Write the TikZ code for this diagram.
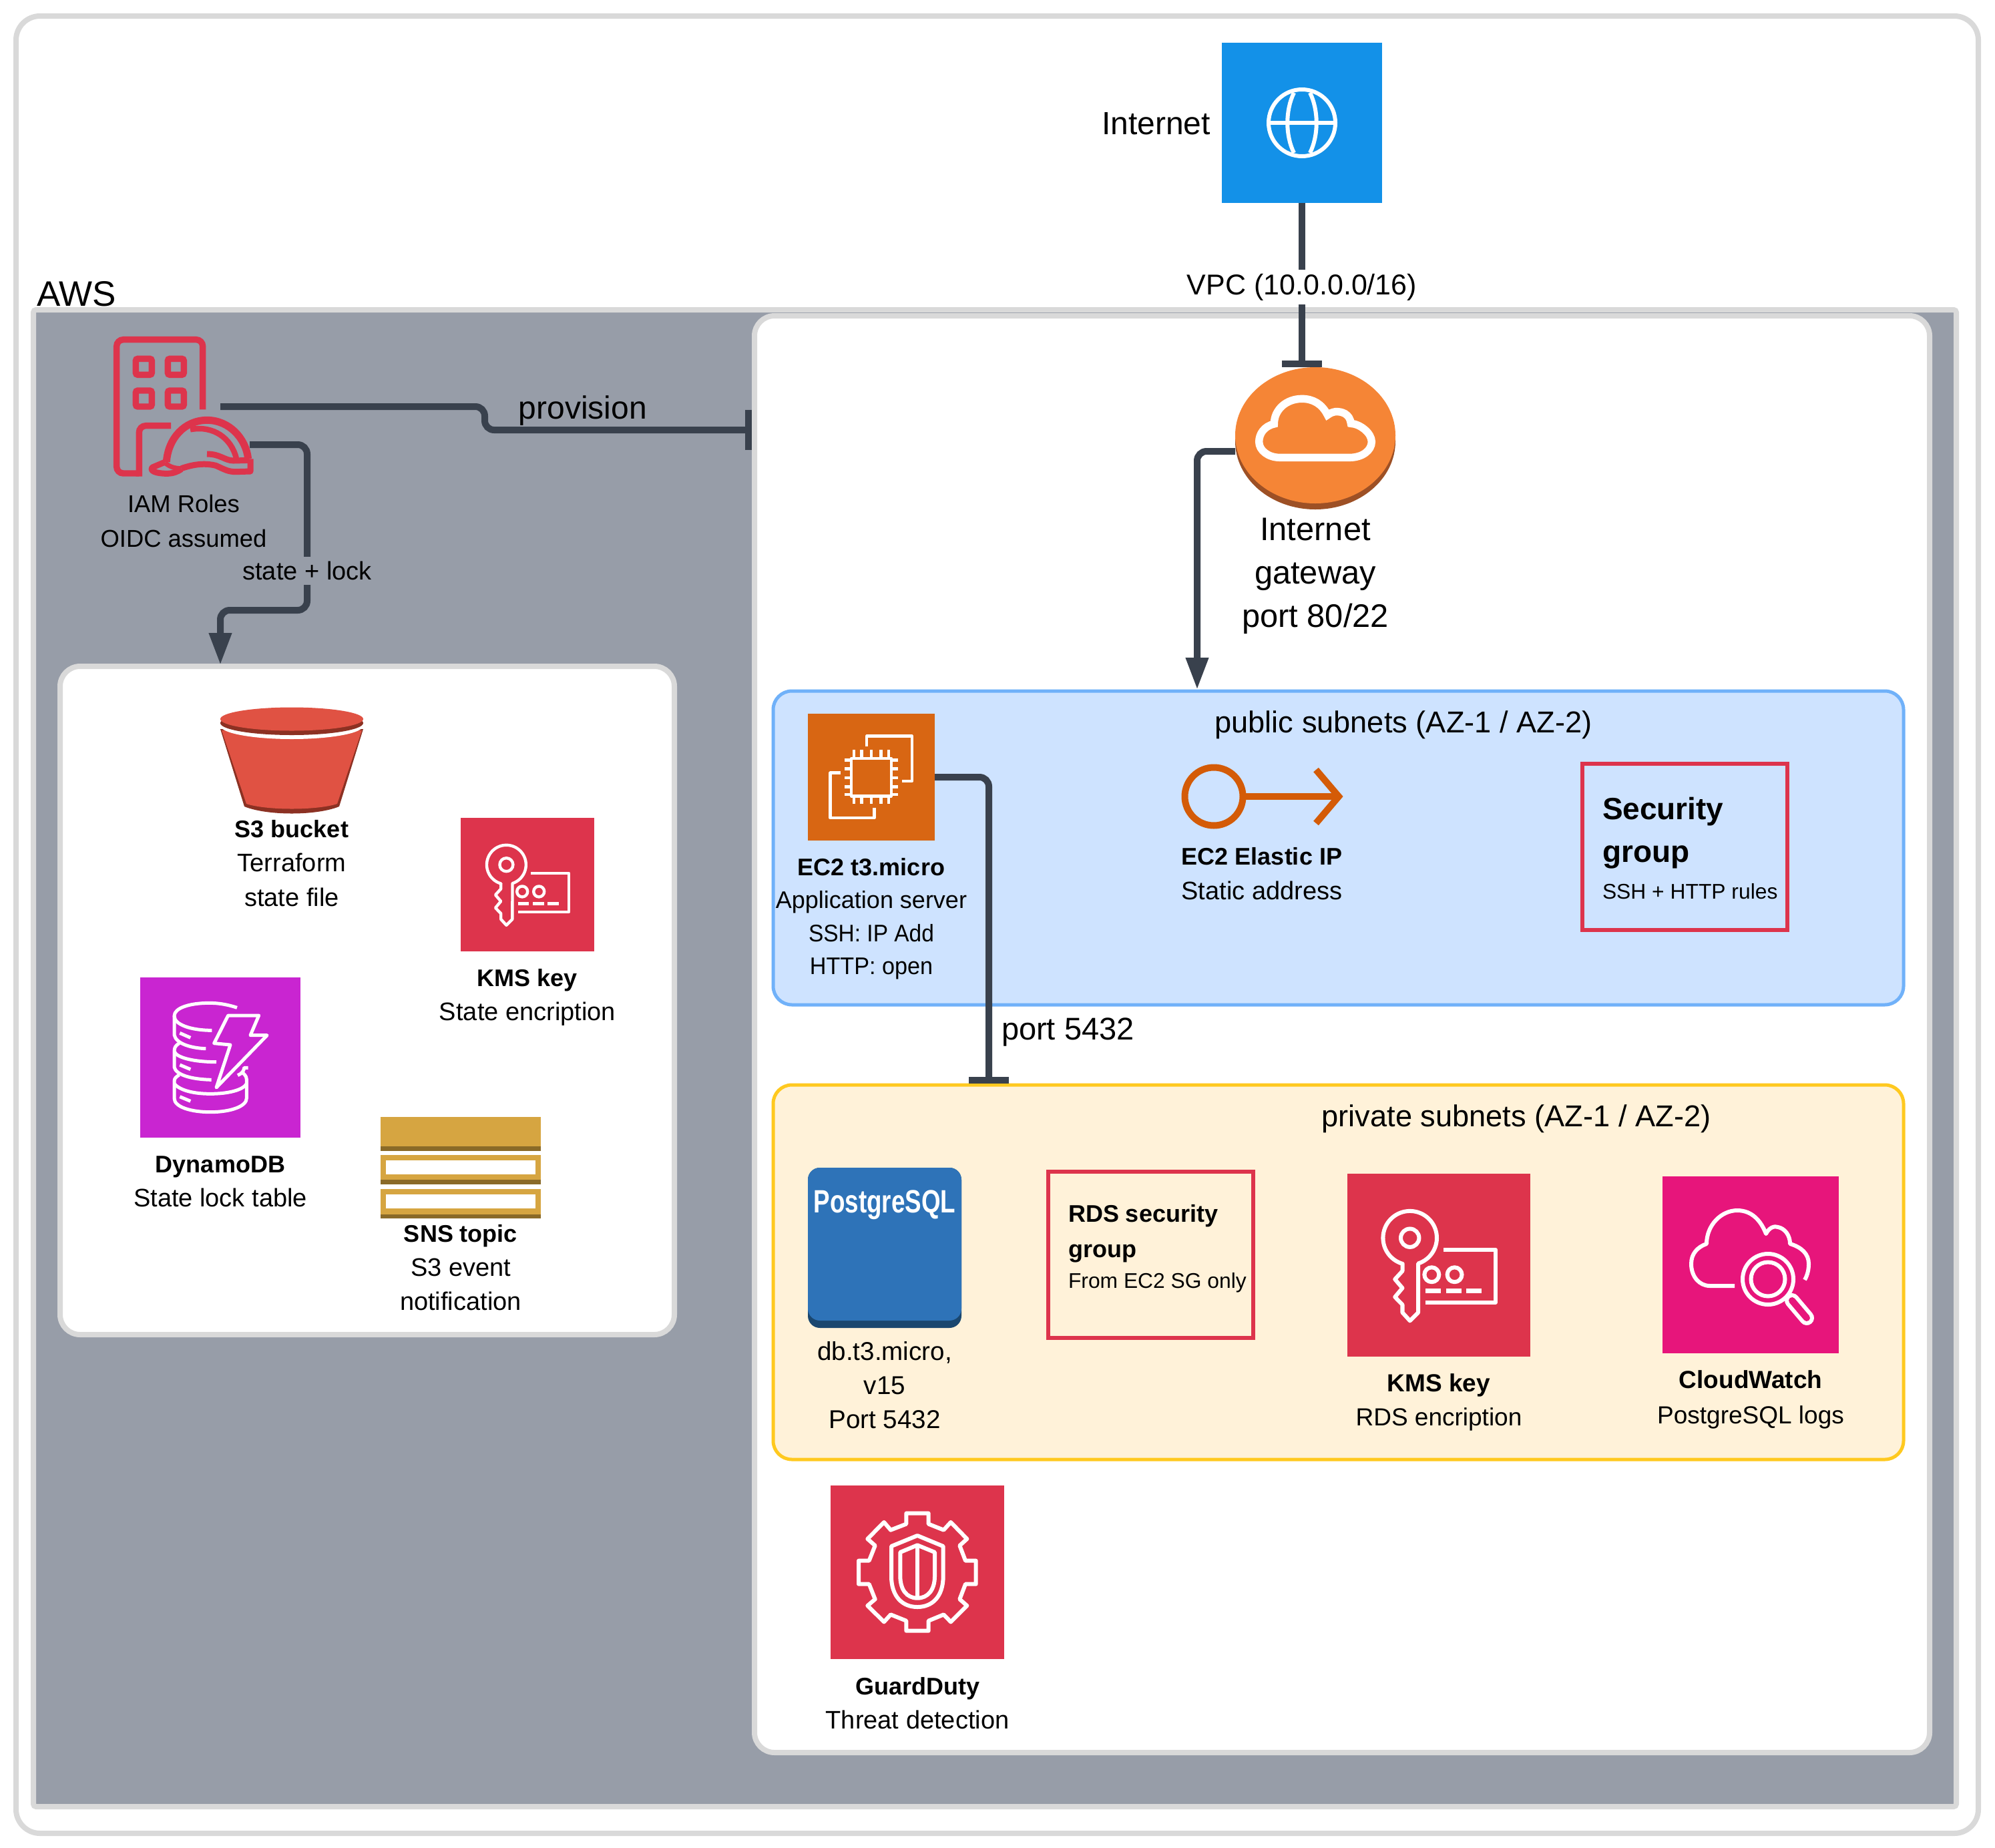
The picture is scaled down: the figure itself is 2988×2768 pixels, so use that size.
\documentclass[tikz,border=0pt]{standalone}
\usepackage{fontspec}
\setmainfont{Liberation Sans}
\usetikzlibrary{arrows.meta,shapes.geometric}
\definecolor{cgray}{HTML}{979DA8}
\definecolor{cframe}{HTML}{D9D9D9}
\definecolor{cline}{HTML}{39414D}
\definecolor{cpub}{HTML}{CEE3FF}
\definecolor{cpubl}{HTML}{70B1F9}
\definecolor{cpriv}{HTML}{FFF2D9}
\definecolor{cprivl}{HTML}{FFC91F}
\definecolor{cred}{HTML}{DD344C}
\definecolor{cinet}{HTML}{1391E8}
\definecolor{cigw}{HTML}{F58536}
\definecolor{cigwd}{HTML}{9D5025}
\definecolor{cec}{HTML}{D86613}
\definecolor{ceip}{HTML}{D45B07}
\definecolor{cs}{HTML}{E05243}
\definecolor{csd}{HTML}{8C3123}
\definecolor{cdyn}{HTML}{C925D1}
\definecolor{csns}{HTML}{D6A541}
\definecolor{csnsd}{HTML}{8A6A28}
\definecolor{cpg}{HTML}{2E73B8}
\definecolor{cpgd}{HTML}{1A476F}
\definecolor{ccw}{HTML}{E7157B}
\newcommand{\bt}[1]{{\fontsize{18}{25}\selectfont\bfseries #1}}
\newcommand{\rbox}[6]{%
  \pgfmathsetlengthmacro\rw{(#5-#3)*0.5}%
  \pgfmathsetlengthmacro\rh{(#6-#4)*0.5}%
  \node[#1,minimum width=\rw,minimum height=\rh,anchor=north west,inner sep=0pt,outer sep=0pt] (#2) at (#3,#4) {};}
\newcommand{\keyicon}[3]{%
  \pgfmathsetlengthmacro\ks{#3*0.5}%
  \begin{scope}[shift={(#1,#2)},x=\ks,y=-\ks,draw=white,line width=0.022*\ks,line join=round]
    \draw plot[domain=106:432,samples=70] ({.342+.147*cos(\x)},{.351+.147*sin(\x)}) -- (.387,.759) -- (.342,.804) -- (.301,.759) -- (.301,.716) -- (.26,.674) -- (.301,.625) -- (.26,.577) -- (.301,.532) -- cycle;
    \draw (.342,.351) circle[radius=.05*\ks];
    \draw (.526,.415) -- (.81,.415) -- (.81,.704) -- (.428,.704);
    \draw (.461,.552) circle[radius=.04*\ks];
    \draw (.586,.552) circle[radius=.04*\ks];
    \draw[line width=.025*\ks] (.428,.641) -- (.511,.641) (.54,.641) -- (.623,.641) (.651,.641) -- (.735,.641);
  \end{scope}}
\tikzset{
  x=0.5pt,y=-0.5pt,
  frame/.style={draw=cframe,line width=4pt},
  conn/.style={draw=cline,line width=5pt,rounded corners=7pt},
  teeend/.style={-{Bar[width=30pt,length=5pt]}},
  triend/.style={-{Triangle[width=16pt,length=24pt]}},
  lab/.style={inner sep=0pt,outer sep=0pt,text=black,align=center,anchor=north},
  lableft/.style={inner sep=0pt,outer sep=0pt,text=black,align=left,anchor=north west},
  fA/.style={font=\fontsize{19}{25.5}\selectfont},
  fB/.style={font=\fontsize{24.4}{32.5}\selectfont},
  fS/.style={font=\fontsize{15.9}{20}\selectfont},
  iconw/.style={draw=white,line join=round},
}
\begin{document}
\begin{tikzpicture}
\useasboundingbox (0,0) rectangle (2988,2768);
\fill[white] (0,0) rectangle (2988,2768);
% containers
\rbox{frame,fill=white,rounded corners=18pt}{outer}{24}{24}{2963}{2746}
\rbox{fill=cgray,draw=cframe,line width=4pt,rounded corners=2pt}{aws}{50}{464}{2930}{2706}
\rbox{frame,fill=white,rounded corners=15pt}{vpc}{1130}{473}{2890}{2625}
\rbox{frame,fill=white,rounded corners=15pt}{state}{90}{998}{1010}{1999}
\rbox{fill=cpub,draw=cpubl,line width=2.5pt,rounded corners=14pt}{pub}{1158}{1035}{2851}{1505}
\rbox{fill=cpriv,draw=cprivl,line width=2.5pt,rounded corners=14pt}{priv}{1158}{1625}{2851}{2186}
\node[lableft,font=\fontsize{26.5}{30}\selectfont] (awst) at (55,421) {AWS};
% anchor boxes for icons
\rbox{fill=cinet}{inet}{1830}{64}{2070}{304}
\fill[cigwd] (1970,661) ellipse[x radius=60pt,y radius=51pt];
\node[ellipse,fill=cigw,minimum width=120pt,minimum height=102pt,inner sep=0pt,outer sep=0pt] (igw) at (1970,652) {};
\rbox{}{iam}{170}{504}{380}{714}
\rbox{fill=cec}{ec2}{1210}{1069}{1400}{1259}
% connector ports and knees
\coordinate (iamP) at (330,609);
\coordinate (provK1) at (726,609);
\coordinate (provK2) at (726,644);
\coordinate (iamS) at (374,666);
\coordinate (stK1) at (460,666);
\coordinate (stK2) at (460,914);
\coordinate (stK3) at (330,914);
\coordinate (igwP) at (1850,676);
\coordinate (igwK) at (1793,676);
\coordinate (ecP) at (1400,1164);
\coordinate (ecK) at (1481,1164);
% connectors
\draw[conn,teeend,shorten >=2pt] (iamP) -- (provK1) -- (provK2) -- (vpc.west |- provK2);
\draw[conn,triend,shorten >=1pt] (iamS) -- (stK1) -- (stK2) -- (stK3) -- (stK3 |- state.north);
\draw[conn,teeend] (inet.south) -- (inet.south |- igw.north);
\draw[conn,triend,shorten >=1pt] (igwP) -- (igwK) -- (igwK |- pub.north);
\draw[conn,teeend,shorten >=1pt] (ecP) -- (ecK) -- (ecK |- priv.north);
% connector labels
\node[fill=white,inner sep=0pt,minimum height=26pt,font=\fontsize{21.5}{26}\selectfont,text=black] (vpcl) at (1950,430) {VPC (10.0.0.0/16)};
\node[fill=cgray,inner sep=0pt,minimum height=21pt,font=\fontsize{19}{23}\selectfont,text=black] (stl) at (460,855) {state + lock};
\node[lab,font=\fontsize{24}{28}\selectfont] (provl) at (873,593) {provision};
\node[lableft,font=\fontsize{23.5}{28}\selectfont] (portl) at (1500,1525) {port 5432};
\node[inner sep=0pt,outer sep=0pt,anchor=north east,text=black,font=\fontsize{24}{28}\selectfont] (inetl) at (1813,168) {Internet};
% internet globe
\begin{scope}[iconw,line width=3pt]
\draw (1950,184) circle[radius=25pt];
\draw (1950,184) ++(-50,0) -- ++(100,0);
\draw (1938,139) .. controls (1925,165) and (1925,203) .. (1938,229);
\draw (1962,139) .. controls (1975,165) and (1975,203) .. (1962,229);
\end{scope}
% IGW cloud
\begin{scope}[shift={(1840,540)},x=0.16667pt,y=-0.16667pt]
\draw[draw=white,line width=5.7pt,line join=miter]
 (230,436) -- (545,436) .. controls (600,436) and (643,405) .. (643,365)
 .. controls (643,325) and (590,285) .. (550,283)
 .. controls (545,240) and (510,228) .. (480,230)
 .. controls (465,232) and (455,238) .. (445,245)
 .. controls (420,195) and (380,172) .. (330,172)
 .. controls (260,172) and (205,220) .. (205,285)
 .. controls (160,295) and (137,330) .. (137,365)
 .. controls (137,405) and (180,436) .. (230,436) -- cycle;
\end{scope}
\node[lab,fB] (igwl) at (1970,776) {Internet\\gateway\\port 80/22};
% IAM icon
\begin{scope}[shift={(160,490)},x=0.16667pt,y=-0.16667pt,draw=cred,line width=4.7pt]
\draw[rounded corners=5pt] (431,370) -- (431,56) -- (44,56) -- (44,657) -- (145,657);
\draw[rounded corners=5pt] (145,671) -- (145,443) -- (288,443);
\draw[rounded corners=1.5pt] (130,142) rectangle (202,214);
\draw[rounded corners=1.5pt] (274,142) rectangle (346,214);
\draw[rounded corners=1.5pt] (130,285) rectangle (202,357);
\draw[rounded corners=1.5pt] (274,285) rectangle (346,357);
\draw[line width=5.5pt,line join=round] (268,606) .. controls (275,500) and (350,418) .. (450,418) .. controls (550,418) and (625,500) .. (635,592);
\draw[line width=4.2pt] (375,460) .. controls (480,440) and (560,500) .. (582,590);
\draw[line width=4.5pt] (450,570) .. controls (510,570) and (530,600) .. (570,600) -- (640,598);
\draw[line width=4.5pt,line join=round] (335,635) .. controls (400,612) and (450,612) .. (490,622) .. controls (530,640) and (545,650) .. (580,650) -- (645,648) -- (645,592);
\draw[line width=4.5pt,line join=round] (262,606) -- (205,630) .. controls (190,645) and (220,658) .. (270,658) .. controls (300,658) and (320,648) .. (335,638);
\draw[line width=3.5pt] (262,610) .. controls (285,630) and (310,635) .. (335,635);
\end{scope}
\node[lab,font=\fontsize{18.2}{26}\selectfont] (iaml) at (275,741) {IAM Roles\\OIDC assumed};
% S3
\fill[csd] (330,1092) -- (366,1208) .. controls (400,1222) and (474,1222) .. (508,1208) -- (544,1092) -- cycle;
\fill[cs] (332,1094) -- (369,1204) .. controls (400,1214) and (474,1214) .. (505,1204) -- (542,1094) -- cycle;
\fill[white] (437,1087) ellipse[x radius=53.5pt,y radius=10pt];
\fill[csd] (437,1083) ellipse[x radius=53.5pt,y radius=9pt];
\node[ellipse,fill=cs,minimum width=107pt,minimum height=17.5pt,inner sep=0pt,outer sep=0pt] (s3) at (437,1077) {};
\node[lab,font=\fontsize{19}{25.75}\selectfont] (s3l) at (437,1228) {\bt{S3 bucket}\\Terraform\\state file};
% KMS state
\rbox{fill=cred}{kmsa}{690}{1225}{890}{1425}
\keyicon{690}{1225}{200}
\node[lab,fA] (kmsal) at (790,1451) {\bt{KMS key}\\State encription};
% DynamoDB
\rbox{fill=cdyn}{dyn}{210}{1464}{450}{1704}
\begin{scope}[shift={(200,1460)},x=0.16667pt,y=-0.16667pt,iconw,line width=2.5pt]
\draw (465,148) .. controls (420,133) and (380,127) .. (340,127) .. controls (250,127) and (183,150) .. (183,185) .. controls (183,225) and (260,250) .. (352,250);
\draw (183,185) -- (183,270) .. controls (190,310) and (260,330) .. (325,332);
\draw (205,308) .. controls (190,318) and (183,325) .. (183,345) -- (183,415) .. controls (190,450) and (260,470) .. (350,472);
\draw (183,345) .. controls (195,375) and (280,392) .. (372,392);
\draw (205,450) .. controls (190,460) and (183,465) .. (183,480) -- (183,555) .. controls (183,595) and (260,617) .. (345,617) .. controls (440,617) and (508,590) .. (508,555) -- (508,470) .. controls (508,455) and (495,445) .. (490,440);
\draw (183,490) .. controls (210,520) and (270,535) .. (345,535) .. controls (420,535) and (490,520) .. (508,490);
\draw (515,418) -- (497,418) .. controls (497,432) and (485,445) .. (468,452);
\draw (208,262) -- (256,283) (208,405) -- (256,425) (208,548) -- (256,568);
\draw (425,183) -- (563,183) -- (525,272) -- (600,272) -- (372,507) -- (435,315) -- (362,308) -- cycle;
\end{scope}
\node[lab,fA] (dynl) at (330,1732) {\bt{DynamoDB}\\State lock table};
% SNS
\rbox{fill=csns}{sns}{570}{1673}{810}{1717}
\fill[csnsd] (sns.south west) rectangle (810,1724);
\fill[csns] (570,1730) rectangle (810,1767);
\fill[csnsd] (570,1767) rectangle (810,1774);
\fill[csns] (570,1781) rectangle (810,1819);
\fill[csnsd] (570,1819) rectangle (810,1825);
\fill[white] (578,1738) rectangle (802,1759);
\fill[white] (578,1789) rectangle (802,1810);
\node[lab,fA] (snsl) at (690,1834) {\bt{SNS topic}\\S3 event\\notification};
% EC2 icon
\begin{scope}[shift={(1150,1050)},x=0.28703pt,y=-0.16667pt,iconw,line width=2.2pt]
\draw (258,205) -- (258,158) -- (376,158) -- (376,360) -- (350,360);
\draw (190,323) -- (163,323) -- (163,525) -- (278,525) -- (278,480);
\draw (218,258) rectangle (322,427);
\foreach \px in {225,245,270,295,315}{\draw (\px,220) -- (\px,258); \draw (\px,427) -- (\px,463);}
\foreach \py in {265,305,345,385,420}{\draw (200,\py) -- (218,\py); \draw (322,\py) -- (340,\py);}
\end{scope}
\node[lab,font=\fontsize{18}{24.75}\selectfont] (ec2l) at (1305,1285) {\bt{EC2 t3.micro}\\Application server\\\scalebox{0.93}[1]{SSH: IP Add}\\\scalebox{0.95}[1]{HTTP: open}};
% Elastic IP
\node[circle,draw=ceip,line width=5pt,minimum size=43.5pt,inner sep=0pt,outer sep=0pt] (eip) at (1818,1193) {};
\draw[ceip,line width=5pt] (eip.east) -- (2004,1193);
\draw[ceip,line width=5pt,miter limit=10] (1971,1153) -- (2005,1193) -- (1971,1233);
\node[lab,font=\fontsize{19}{26}\selectfont] (eipl) at (1890,1269) {\bt{EC2 Elastic IP}\\Static address};
% security group
\rbox{draw=cred,line width=3pt}{sg}{2370}{1144}{2677}{1393}
\node[lableft,font=\fontsize{23}{32}\selectfont] (sgt) at (2400,1194) {\textbf{Security}\\\textbf{group}};
\node[lableft,fS] (sgs) at (2400,1323) {SSH + HTTP rules};
% subnet titles
\node[lab,font=\fontsize{22.6}{27}\selectfont] (publ) at (2102,1065) {public subnets (AZ-1 / AZ-2)};
\node[lab,font=\fontsize{22.6}{27}\selectfont] (privl) at (2271,1655) {private subnets (AZ-1 / AZ-2)};
% Postgres
\rbox{fill=cpgd,rounded corners=9pt}{pgd}{1210}{1749}{1440}{1989}
\rbox{fill=cpg,rounded corners=9pt}{pg}{1210}{1749}{1440}{1978}
\node[inner sep=0pt,text=white,font=\fontsize{23}{27}\selectfont] (pgt) at (1325,1805) {\scalebox{0.8}[1.05]{\textbf{PostgreSQL}}};
\node[lab,font=\fontsize{19.3}{25.5}\selectfont] (pgl) at (1325,2010) {db.t3.micro,\\v15\\\scalebox{1}[1]{Port 5432}};
% RDS SG
\rbox{draw=cred,line width=3pt}{rds}{1570}{1755}{1877}{2004}
\node[lableft,font=\fontsize{18}{26.5}\selectfont] (rdst) at (1600,1804) {\textbf{RDS security}\\\textbf{group}};
\node[lableft,fS] (rdss) at (1600,1906) {From EC2 SG only};
% KMS RDS
\rbox{fill=cred}{kmsb}{2018}{1758}{2292}{2032}
\keyicon{2018}{1758}{274}
\node[lab,font=\fontsize{18.5}{25.5}\selectfont] (kmsbl) at (2155,2058) {\textbf{KMS key}\\RDS encription};
% CloudWatch
\rbox{fill=ccw}{cw}{2490}{1762}{2754}{2027}
\begin{scope}[iconw,line width=3pt]
\draw (2598,1926) -- (2561,1926) .. controls (2545,1926) and (2533,1912) .. (2533,1893) .. controls (2533,1878) and (2542,1868) .. (2556,1863) .. controls (2556,1835) and (2578,1813) .. (2602,1813) .. controls (2625,1813) and (2638,1830) .. (2645,1848) .. controls (2650,1838) and (2658,1836) .. (2663,1838) .. controls (2673,1840) and (2681,1850) .. (2681,1863) .. controls (2698,1868) and (2709,1878) .. (2709,1893) .. controls (2709,1902) and (2707,1910) .. (2703,1917);
\draw[line width=11pt,line cap=round] (2684,1948) -- (2706,1974);
\draw[draw=ccw,line width=5pt,line cap=round] (2684,1948) -- (2706,1974);
\filldraw[fill=ccw] (2648,1916) circle[radius=19pt];
\draw (2648,1916) circle[radius=12.75pt];
\end{scope}
\node[lab,font=\fontsize{18.5}{26.5}\selectfont] (cwl) at (2622,2053) {\textbf{CloudWatch}\\PostgreSQL logs};
% GuardDuty
\rbox{fill=cred}{gd}{1244}{2225}{1504}{2485}
\begin{scope}[shift={(1200,2201)},x=0.16667pt,y=-0.16667pt,iconw,line width=3pt]
\draw (472,197) -- (572,197) -- (572,245) -- (640,272) -- (672,237) -- (745,312) -- (712,342) -- (738,410) -- (785,410) -- (785,515) -- (738,515) -- (712,583) -- (745,612) -- (672,685) -- (640,652) -- (572,680) -- (572,725) -- (472,725) -- (472,680) -- (402,652) -- (372,685) -- (298,612) -- (332,583) -- (305,515) -- (258,515) -- (258,410) -- (305,410) -- (332,342) -- (298,312) -- (372,237) -- (402,272) -- (472,245) -- cycle;
\draw (522,297) -- (638,345) -- (638,480) .. controls (638,570) and (590,618) .. (522,618) .. controls (454,618) and (405,570) .. (405,480) -- (405,345) -- cycle;
\draw (522,340) -- (600,372) -- (600,480) .. controls (600,540) and (570,578) .. (522,578) .. controls (474,578) and (445,540) .. (445,480) -- (445,372) -- cycle;
\draw (522,340) -- (522,578);
\end{scope}
\node[lab,fA] (gdl) at (1374,2512) {\bt{GuardDuty}\\Threat detection};
\end{tikzpicture}
\end{document}
